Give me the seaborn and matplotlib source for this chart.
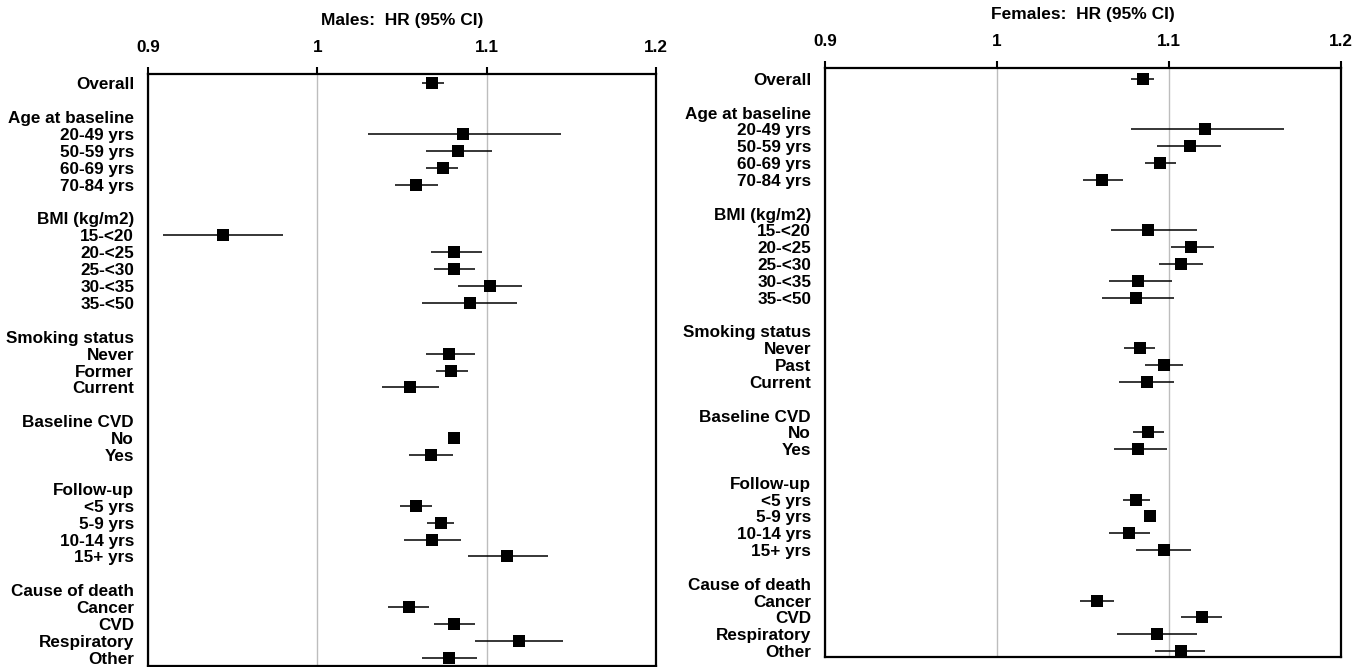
import numpy as np
import pandas as pd
import matplotlib
matplotlib.use("Agg")
import matplotlib.pyplot as plt
import seaborn as sns

nan = np.nan

labels_m = ["Overall", "", "Age at baseline", "20-49 yrs", "50-59 yrs", "60-69 yrs", "70-84 yrs", "",
            "BMI (kg/m2)", "15-<20", "20-<25", "25-<30", "30-<35", "35-<50", "",
            "Smoking status", "Never", "Former", "Current", "",
            "Baseline CVD", "No", "Yes", "",
            "Follow-up", "<5 yrs", "5-9 yrs", "10-14 yrs", "15+ yrs", "",
            "Cause of death", "Cancer", "CVD", "Respiratory", "Other"]
labels_f = ["Overall", "", "Age at baseline", "20-49 yrs", "50-59 yrs", "60-69 yrs", "70-84 yrs", "",
            "BMI (kg/m2)", "15-<20", "20-<25", "25-<30", "30-<35", "35-<50", "",
            "Smoking status", "Never", "Past", "Current", "",
            "Baseline CVD", "No", "Yes", "",
            "Follow-up", "<5 yrs", "5-9 yrs", "10-14 yrs", "15+ yrs", "",
            "Cause of death", "Cancer", "CVD", "Respiratory", "Other"]

males_hr = [1.068, nan, nan, 1.086, 1.083, 1.074, 1.058, nan,
            nan, 0.944, 1.081, 1.081, 1.102, 1.090, nan,
            nan, 1.078, 1.079, 1.055, nan,
            nan, 1.081, 1.067, nan,
            nan, 1.058, 1.073, 1.068, 1.112, nan,
            nan, 1.054, 1.081, 1.119, 1.078]
males_lo = [1.062, nan, nan, 1.030, 1.064, 1.064, 1.046, nan,
            nan, 0.909, 1.067, 1.069, 1.083, 1.062, nan,
            nan, 1.064, 1.070, 1.038, nan,
            nan, 1.078, 1.054, nan,
            nan, 1.049, 1.065, 1.051, 1.089, nan,
            nan, 1.042, 1.069, 1.093, 1.062]
males_hi = [1.075, nan, nan, 1.144, 1.103, 1.083, 1.071, nan,
            nan, 0.980, 1.097, 1.093, 1.121, 1.118, nan,
            nan, 1.093, 1.089, 1.072, nan,
            nan, 1.084, 1.080, nan,
            nan, 1.068, 1.081, 1.085, 1.136, nan,
            nan, 1.066, 1.093, 1.145, 1.094]

females_hr = [1.085, nan, nan, 1.121, 1.112, 1.095, 1.061, nan,
              nan, 1.088, 1.113, 1.107, 1.082, 1.081, nan,
              nan, 1.083, 1.097, 1.087, nan,
              nan, 1.088, 1.082, nan,
              nan, 1.081, 1.089, 1.077, 1.097, nan,
              nan, 1.058, 1.119, 1.093, 1.107]
females_lo = [1.078, nan, nan, 1.078, 1.093, 1.086, 1.050, nan,
              nan, 1.066, 1.101, 1.094, 1.065, 1.061, nan,
              nan, 1.074, 1.086, 1.071, nan,
              nan, 1.079, 1.068, nan,
              nan, 1.073, 1.086, 1.065, 1.081, nan,
              nan, 1.048, 1.107, 1.070, 1.092]
females_hi = [1.091, nan, nan, 1.167, 1.130, 1.104, 1.073, nan,
              nan, 1.116, 1.126, 1.120, 1.102, 1.103, nan,
              nan, 1.092, 1.108, 1.103, nan,
              nan, 1.097, 1.099, nan,
              nan, 1.089, 1.092, 1.089, 1.113, nan,
              nan, 1.068, 1.131, 1.116, 1.121]

xticks = [0.9, 1.0, 1.1, 1.2]
xtick_labels = ["0.9", "1", "1.1", "1.2"]
title_m = "Males:  HR (95% CI)"
title_f = "Females:  HR (95% CI)"

sns.set_style("white")
plt.rcParams["font.family"] = ["Liberation Sans", "DejaVu Sans"]
plt.rcParams["text.color"] = "black"
plt.rcParams["xtick.color"] = "black"
plt.rcParams["ytick.color"] = "black"
plt.rcParams["axes.labelcolor"] = "black"

W, H = 1369, 667
fig = plt.figure(figsize=(W / 100, H / 100), dpi=100)


def px_axes(x0, x1, y0, y1):
    return fig.add_axes([x0 / W, 1 - y1 / H, (x1 - x0) / W, (y1 - y0) / H])


def forest(ax, labels, hr, lo, hi, ylim):
    df = pd.DataFrame({"row": np.arange(len(labels)), "label": labels,
                       "hr": hr, "lo": lo, "hi": hi})
    d = df.dropna(subset=["hr"])
    ax.hlines(d["row"], d["lo"], d["hi"], color="black", lw=1.1, zorder=2)
    sns.scatterplot(data=d, x="hr", y="row", marker="s", s=85, color="black",
                    linewidth=0, ax=ax, zorder=3, legend=False)
    ax.set_xlim(0.9, 1.2)
    ax.set_ylim(*ylim)
    ax.set_yticks(df["row"])
    ax.set_yticklabels(df["label"], fontsize=12.3, fontweight="bold", color="black")
    ax.xaxis.tick_top()
    ax.set_xticks(xticks)
    ax.set_xticklabels(xtick_labels, fontsize=12.3, fontweight="bold", color="black")
    ax.tick_params(axis="x", direction="out", length=5, width=1.5, pad=9, colors="black")
    ax.tick_params(axis="y", length=0, pad=10, colors="black")
    ax.grid(axis="x", color="#bdbdbd", lw=1)
    ax.grid(axis="y", visible=False)
    ax.set_axisbelow(True)
    ax.set_xlabel("")
    ax.set_ylabel("")
    for sp in ax.spines.values():
        sp.set_visible(True)
        sp.set_color("black")
        sp.set_linewidth(1.6)


ax_m = px_axes(148, 656, 74, 665.5)
forest(ax_m, labels_m, males_hr, males_lo, males_hi, (34.45, -0.55))
ax_f = px_axes(825, 1341, 68, 657)
forest(ax_f, labels_f, females_hr, females_lo, females_hi, (34.35, -0.65))

fig.text((148 + 656) / 2 / W, 1 - 20 / H, title_m, ha="center", va="center",
         fontsize=12.5, fontweight="bold", color="black")
fig.text((825 + 1341) / 2 / W, 1 - 15 / H, title_f, ha="center", va="center",
         fontsize=12.5, fontweight="bold", color="black")

fig.savefig("out.png", dpi=100)
